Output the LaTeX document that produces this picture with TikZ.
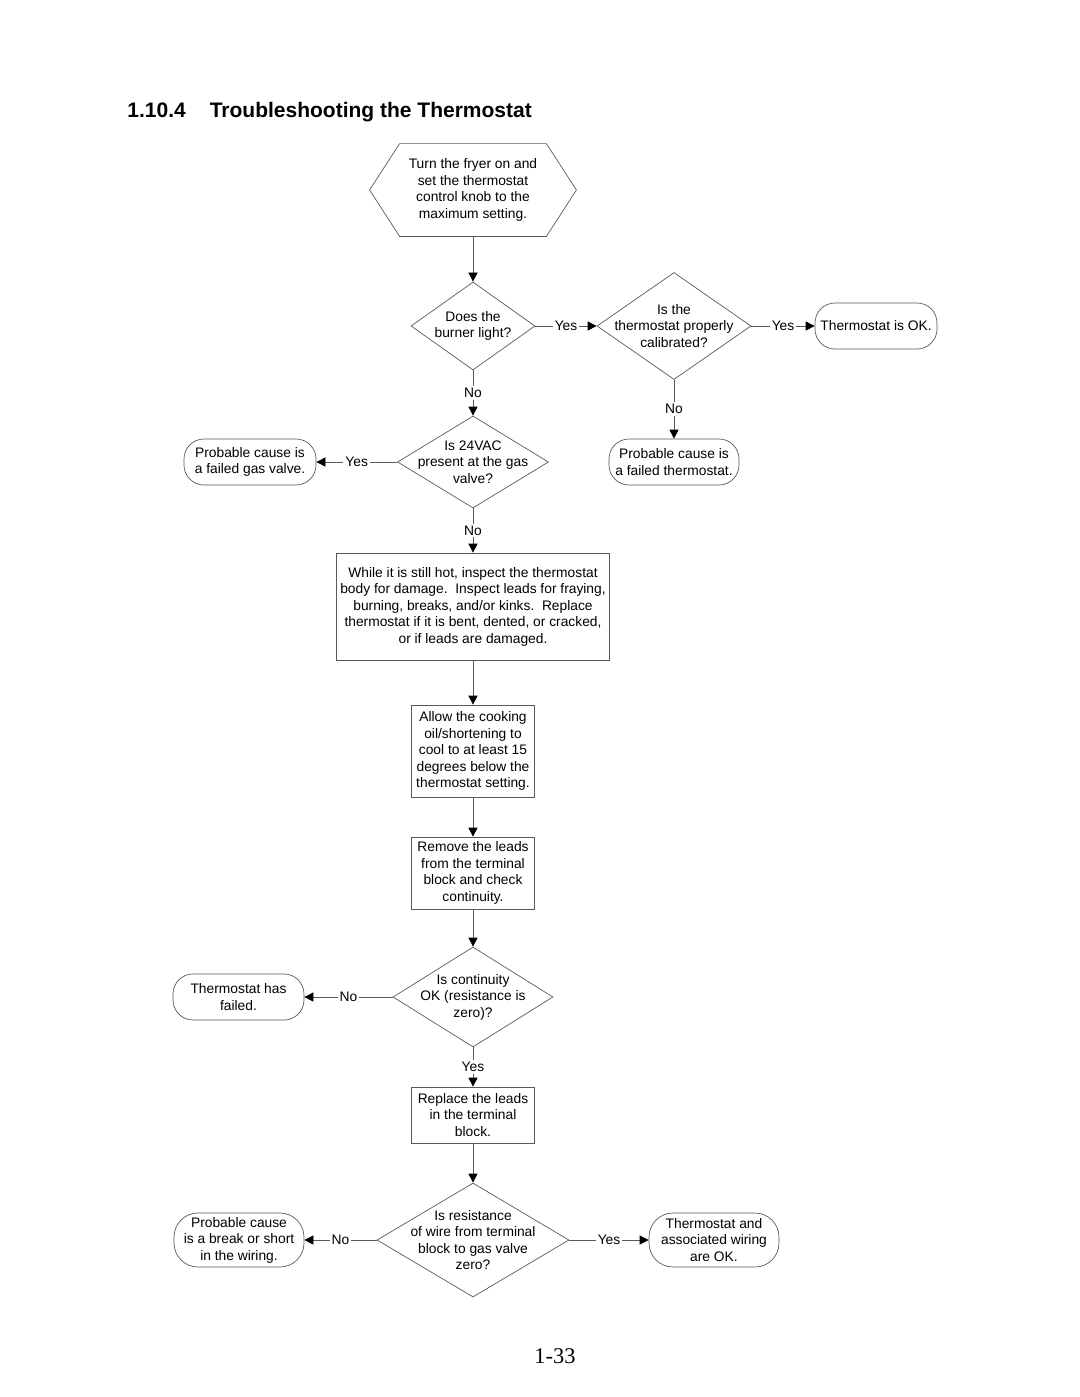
\documentclass[tikz,border=0pt]{standalone}
\usepackage{fontspec}
\setmainfont{Liberation Sans}
\newfontfamily\pagefont{Liberation Serif}
\usetikzlibrary{shapes.geometric,arrows.meta}

\begin{document}
\begin{tikzpicture}[x=0.5pt, y=-0.5pt,
  every node/.style={font=\fontsize{6.9}{8.25}\selectfont, align=center},
  flow/.style={draw=black!65, line width=0.35pt, -{Triangle[length=4.5pt,width=4.5pt,color=black]}},
  yn/.style={fill=white, inner sep=1pt},
  box/.style={draw=black!65, line width=0.35pt, minimum width=61.5pt, inner sep=0pt},
  endbox/.style={draw=black!65, line width=0.35pt, rounded corners=10pt, inner sep=0pt, minimum height=23pt},
  decision/.style={diamond, draw=black!65, line width=0.35pt, inner sep=0pt}]
\useasboundingbox (0,0) rectangle (1080,1397);

% Heading
\node[anchor=base west, inner sep=0pt, font=\fontsize{10.5}{12}\selectfont\bfseries] (title) at (127,117) {1.10.4\hspace{12pt}Troubleshooting the Thermostat};

% Start
\node[minimum width=103pt, minimum height=46pt, inner sep=0pt] (start) at (473,190) {Turn the fryer on and\\set the thermostat\\control knob to the\\maximum setting.};
\draw[draw=black!65, line width=0.35pt] (start.west) -- ([xshift=15pt]start.north west) -- ([xshift=-15pt]start.north east) -- (start.east) -- ([xshift=-15pt]start.south east) -- ([xshift=15pt]start.south west) -- cycle;

% Burner and calibration
\node[decision, minimum width=62pt, minimum height=44pt, label={center:Does the\\burner light?}] (burner) at (473,326) {};
\node[decision, minimum width=77pt, minimum height=53.5pt, label={center:Is the\\thermostat properly\\calibrated?}] (calib) at (674,326) {};
\node[endbox, minimum width=61pt] (stokA) at (876,326) {Thermostat is OK.};
\node[endbox, minimum width=65pt] (stfail) at (674,462) {Probable cause is\\a failed thermostat.};

% Gas valve
\node[decision, minimum width=75.5pt, minimum height=46pt, label={center:Is 24VAC\\present at the gas\\valve?}] (volts) at (473,462) {};
\node[endbox, minimum width=66pt] (gasvalve) at (250,462) {Probable cause is\\a failed gas valve.};

% Inspection
\node[box, minimum width=136.5pt, minimum height=53.5pt] (inspect) at (473,606.5) {While it is still hot, inspect the thermostat\\body for damage.\ \ Inspect leads for fraying,\\burning, breaks, and/or kinks.\ \ Replace\\thermostat if it is bent, dented, or cracked,\\or if leads are damaged.};
\node[box, minimum height=46pt] (cool) at (473,751) {Allow the cooking\\oil/shortening to\\cool to at least 15\\degrees below the\\thermostat setting.};
\node[box, minimum height=36pt] (leads) at (473,873) {Remove the leads\\from the terminal\\block and check\\continuity.};

% Continuity
\node[decision, minimum width=80pt, minimum height=50pt, label={center:Is continuity\\OK (resistance is\\zero)?}] (contin) at (473,997) {};
\node[endbox, minimum width=65.5pt] (stfailed) at (238.5,997) {Thermostat has\\failed.};
\node[box, minimum height=28pt] (replace) at (473,1115) {Replace the leads\\in the terminal\\block.};

% Wiring
\node[decision, minimum width=96pt, minimum height=57pt, label={center:Is resistance\\of wire from terminal\\block to gas valve\\zero?}] (wire) at (473,1240) {};
\node[endbox, minimum width=65pt, minimum height=27pt, rounded corners=12pt] (wiring) at (239,1240) {Probable cause\\is a break or short\\in the wiring.};
\node[endbox, minimum width=65pt, minimum height=27pt, rounded corners=12pt] (allok) at (714,1240) {Thermostat and\\associated wiring\\are OK.};

% Connectors
\draw[flow] (start) -- (burner);
\draw[flow] (burner) -- node[yn]{Yes} (calib);
\draw[flow] (calib) -- node[yn]{Yes} (stokA);
\draw[flow] (calib) -- node[yn]{No} (stfail);
\draw[flow] (burner) -- node[yn]{No} (volts);
\draw[flow] (volts) -- node[yn]{Yes} (gasvalve);
\draw[flow] (volts) -- node[yn]{No} (inspect);
\draw[flow] (inspect) -- (cool);
\draw[flow] (cool) -- (leads);
\draw[flow] (leads) -- (contin);
\draw[flow] (contin) -- node[yn]{No} (stfailed);
\draw[flow] (contin) -- node[yn]{Yes} (replace);
\draw[flow] (replace) -- (wire);
\draw[flow] (wire) -- node[yn]{No} (wiring);
\draw[flow] (wire) -- node[yn]{Yes} (allok);

% Page number
\node[anchor=base, font=\pagefont\fontsize{11.2}{13}\selectfont] (page) at (555,1363) {1-33};
\end{tikzpicture}
\end{document}
